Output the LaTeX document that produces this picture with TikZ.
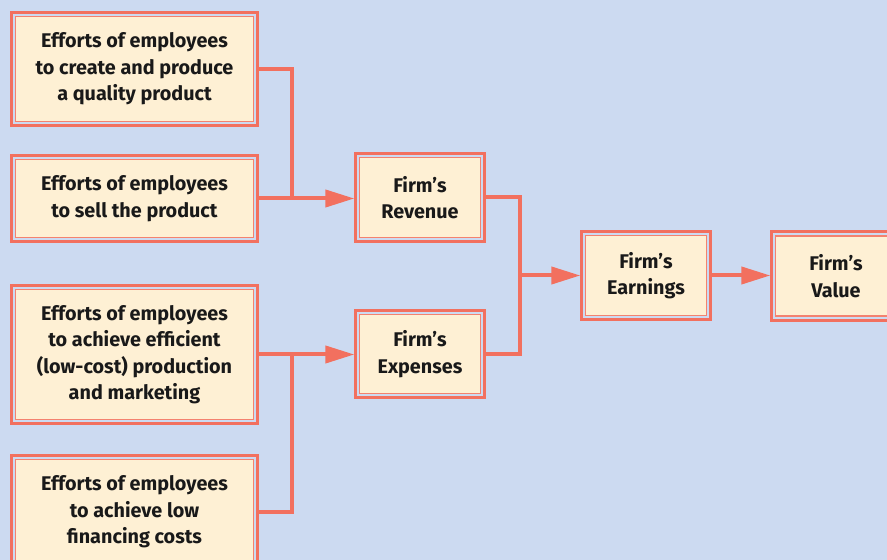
\documentclass[tikz,border=0pt]{standalone}
\usepackage{fontspec}
\setmainfont{Fira Sans}
\usetikzlibrary{arrows.meta}
\definecolor{bgblue}{HTML}{CCDAF1}
\definecolor{coral}{HTML}{F2705F}
\definecolor{coralthin}{HTML}{F4826F}
\definecolor{cream}{HTML}{FEF0D4}
\tikzset{
  box/.style={draw=coralthin, line width=1.3pt, fill=cream, inner sep=0pt, align=center,
    font=\bfseries\fontsize{19.8}{26.5}\selectfont, text=black!90},
  lbox/.style={box, minimum width=238pt},
  sbox/.style={box, minimum width=121pt, minimum height=80pt},
  outerb/.style={draw=coral, line width=3pt},
  conn/.style={draw=coral, line width=4pt, line join=miter},
  arr/.style={conn, -{Triangle[length=29pt,width=17pt]}},
}
\begin{document}
\begin{tikzpicture}[x=1pt,y=1pt]
\fill[bgblue] (0,0) rectangle (887,560);
\useasboundingbox (0,0) rectangle (887,560);
\node[lbox, minimum height=105pt] (b1) at (134.5,491) {Efforts of employees\\to create and produce\\a quality product};
\node[lbox, minimum height=78pt] (b2) at (134.5,361.5) {Efforts of employees\\to sell the product};
\node[lbox, minimum height=130pt] (b3) at (134.5,205.5) {Efforts of employees\\to achieve efficient\\(low-cost) production\\and marketing};
\node[lbox, minimum height=105pt] (b4) at (134.5,48) {Efforts of employees\\to achieve low\\financing costs};
\node[sbox] (rev) at (420,362.5) {Firm’s\\Revenue};
\node[sbox, minimum height=79pt] (exp) at (420,206) {Firm’s\\Expenses};
\node[sbox] (earn) at (646,284.5) {Firm’s\\Earnings};
\node[sbox] (val) at (836,284) {Firm’s\\Value};
\foreach \n in {b1,b2,b3,b4,rev,exp,earn,val}
  \draw[outerb] ([shift={(-3.4pt,-3.4pt)}]\n.south west) rectangle ([shift={(3.4pt,3.4pt)}]\n.north east);
\coordinate (j1) at (292,361.5);
\coordinate (j2) at (292,205.5);
\coordinate (j3) at (520,284.5);
\draw[conn, shorten <=4.5pt] (b1.east) -| (j1);
\draw[arr, shorten <=4.5pt, shorten >=4.5pt] (b2.east) -- (b2.east -| rev.west);
\draw[conn, shorten <=4.5pt] (b4.east) -| (j2);
\draw[arr, shorten <=4.5pt, shorten >=4.5pt] (b3.east) -- (b3.east -| exp.west);
\draw[conn, shorten <=4.5pt, shorten >=4.5pt] (rev.east) -| (j3) |- (exp.east);
\draw[arr, shorten >=4.5pt] (j3) -- (earn.west);
\draw[arr, shorten <=4.5pt, shorten >=4.5pt] (earn.east) -- (earn.east -| val.west);
\end{tikzpicture}
\end{document}
